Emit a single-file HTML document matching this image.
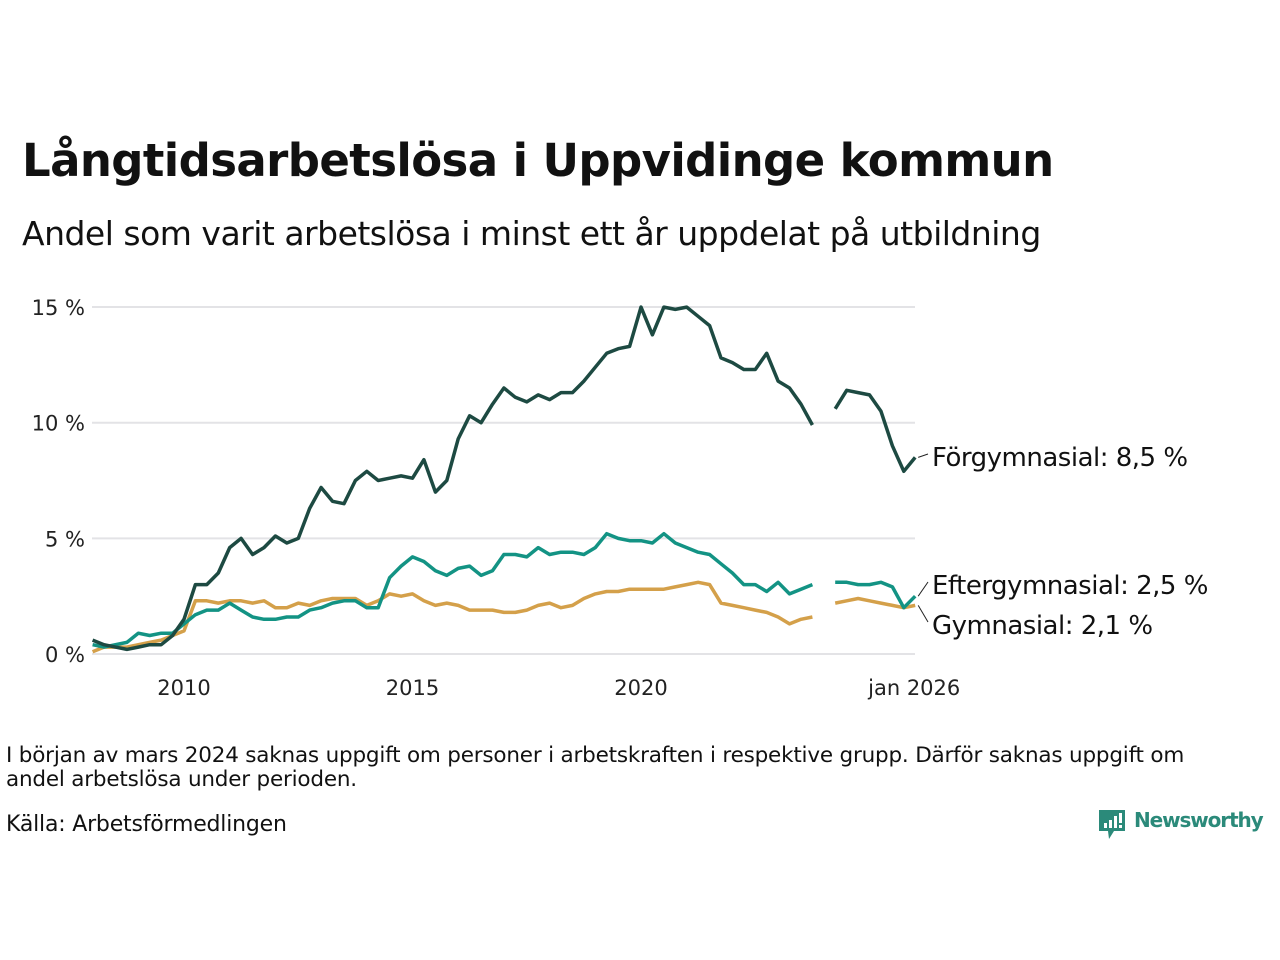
<!DOCTYPE html>
<html><head><meta charset="utf-8"><style>
body{margin:0;width:1280px;height:960px;background:#fff;font-family:"Liberation Sans","DejaVu Sans",sans-serif;color:#111;overflow:hidden;position:relative}
.t{position:absolute;white-space:nowrap}
</style></head><body>
<div class="t" style="left:22px;top:134px;font-size:45px;font-weight:bold;font-family:'DejaVu Sans',sans-serif;letter-spacing:-0.6px">Långtidsarbetslösa i Uppvidinge kommun</div>
<div class="t" style="left:22px;top:214px;font-size:33px;font-family:'DejaVu Sans',sans-serif;letter-spacing:-0.5px">Andel som varit arbetslösa i minst ett år uppdelat på utbildning</div>
<svg id="chart" width="1280" height="720" style="position:absolute;left:0;top:0" font-family="DejaVu Sans, sans-serif"></svg>
<div class="t" style="left:6px;top:744px;font-size:21.5px;line-height:24px;white-space:normal;width:1232px;font-family:'DejaVu Sans',sans-serif;letter-spacing:-0.2px">I början av mars 2024 saknas uppgift om personer i arbetskraften i respektive grupp. Därför saknas uppgift om andel arbetslösa under perioden.</div>
<div class="t" style="left:6px;top:812px;font-size:22px;font-family:'DejaVu Sans',sans-serif;letter-spacing:-0.2px">Källa: Arbetsförmedlingen</div>
<div style="position:absolute;left:1099px;top:810px;">
<svg width="26" height="30"><path d="M0 0H26V21H15L10 29L9 21H0Z" fill="#2b8a7a"/><rect x="5" y="13" width="3" height="5" fill="#fff"/><rect x="10" y="10" width="3" height="8" fill="#fff"/><rect x="15" y="6" width="3" height="12" fill="#fff"/><rect x="20" y="3" width="3" height="10" fill="#fff"/><rect x="20" y="15" width="3" height="3" fill="#fff"/></svg>
<span style="position:absolute;left:35px;top:-2px;font-size:20px;font-weight:bold;color:#2b8a7a;font-family:'DejaVu Sans',sans-serif;letter-spacing:-1.1px">Newsworthy</span></div>
<script>
const startYear = 2008.0;
const stepYears = 0.25;
const forgym = [0.6,0.4,0.3,0.2,0.3,0.4,0.4,0.8,1.5,3.0,3.0,3.5,4.6,5.0,4.3,4.6,5.1,4.8,5.0,6.3,7.2,6.6,6.5,7.5,7.9,7.5,7.6,7.7,7.6,8.4,7.0,7.5,9.3,10.3,10.0,10.8,11.5,11.1,10.9,11.2,11.0,11.3,11.3,11.8,12.4,13.0,13.2,13.3,15.0,13.8,15.0,14.9,15.0,14.6,14.2,12.8,12.6,12.3,12.3,13.0,11.8,11.5,10.8,9.9,null,10.6,11.4,11.3,11.2,10.5,9.0,7.9,8.5];
const eftergym = [0.4,0.3,0.4,0.5,0.9,0.8,0.9,0.9,1.3,1.7,1.9,1.9,2.2,1.9,1.6,1.5,1.5,1.6,1.6,1.9,2.0,2.2,2.3,2.3,2.0,2.0,3.3,3.8,4.2,4.0,3.6,3.4,3.7,3.8,3.4,3.6,4.3,4.3,4.2,4.6,4.3,4.4,4.4,4.3,4.6,5.2,5.0,4.9,4.9,4.8,5.2,4.8,4.6,4.4,4.3,3.9,3.5,3.0,3.0,2.7,3.1,2.6,2.8,3.0,null,3.1,3.1,3.0,3.0,3.1,2.9,2.0,2.5];
const gym = [0.1,0.3,0.3,0.3,0.4,0.5,0.6,0.8,1.0,2.3,2.3,2.2,2.3,2.3,2.2,2.3,2.0,2.0,2.2,2.1,2.3,2.4,2.4,2.4,2.1,2.3,2.6,2.5,2.6,2.3,2.1,2.2,2.1,1.9,1.9,1.9,1.8,1.8,1.9,2.1,2.2,2.0,2.1,2.4,2.6,2.7,2.7,2.8,2.8,2.8,2.8,2.9,3.0,3.1,3.0,2.2,2.1,2.0,1.9,1.8,1.6,1.3,1.5,1.6,null,2.2,2.3,2.4,2.3,2.2,2.1,2.0,2.1];
const yTicks = [0,5,10,15];
const yTickLabels = ["0 %","5 %","10 %","15 %"];
const xTicks = [2010,2015,2020,2026];
const xTickLabels = ["2010","2015","2020","jan 2026"];
const seriesNames = ["Förgymnasial: 8,5 %","Eftergymnasial: 2,5 %","Gymnasial: 2,1 %"];

const NS="http://www.w3.org/2000/svg";
const svg=document.getElementById('chart');
const X=t=>184+(t-2010)*45.7;
const Y=v=>654-v*23.13;
function mk(tag,attrs){const e=document.createElementNS(NS,tag);for(const k in attrs)e.setAttribute(k,attrs[k]);svg.appendChild(e);return e;}
yTicks.forEach((v,i)=>{
  const g=mk('line',{x1:92,x2:915,y1:Y(v),y2:Y(v),stroke:'#e3e3e6','stroke-width':2});
  
  
  const t=mk('text',{x:85,y:Y(v)+8,'text-anchor':'end','font-size':21,fill:'#222'});t.textContent=yTickLabels[i];
  
  
});
xTicks.forEach((v,i)=>{
  const t=mk('text',{x:X(v)+(i==3?-1:0),y:695,'text-anchor':'middle','font-size':21,fill:'#222'});t.textContent=xTickLabels[i];
  
  
});
function draw(arr,color,name){
  let d='',pen=false;
  arr.forEach((v,i)=>{if(v==null){pen=false;return;}const x=X(startYear+i*stepYears),y=Y(v);d+=(pen?'L':'M')+x.toFixed(1)+' '+y.toFixed(1);pen=true;});
  const p=mk('path',{d:d,fill:'none',stroke:color,'stroke-width':3.5,'stroke-linejoin':'round'});
  
  
}
draw(gym,'#d4a04a','line-gymnasial');
draw(eftergym,'#139384','line-eftergymnasial');
draw(forgym,'#1d4a42','line-forgymnasial');
const lastX=X(startYear+(forgym.length-1)*stepYears);
const labs=[[forgym[forgym.length-1],458],[eftergym[eftergym.length-1],586],[gym[gym.length-1],626]];
labs.forEach((l,i)=>{
  const ln=mk('line',{x1:lastX+3,y1:Y(l[0]),x2:928,y2:l[1]-4,stroke:'#222','stroke-width':1});
  
  
  const t=mk('text',{x:932,y:l[1]+8,'font-size':26,fill:'#111','letter-spacing':-0.5});t.textContent=seriesNames[i];
  
  
});
</script>
</body></html>
